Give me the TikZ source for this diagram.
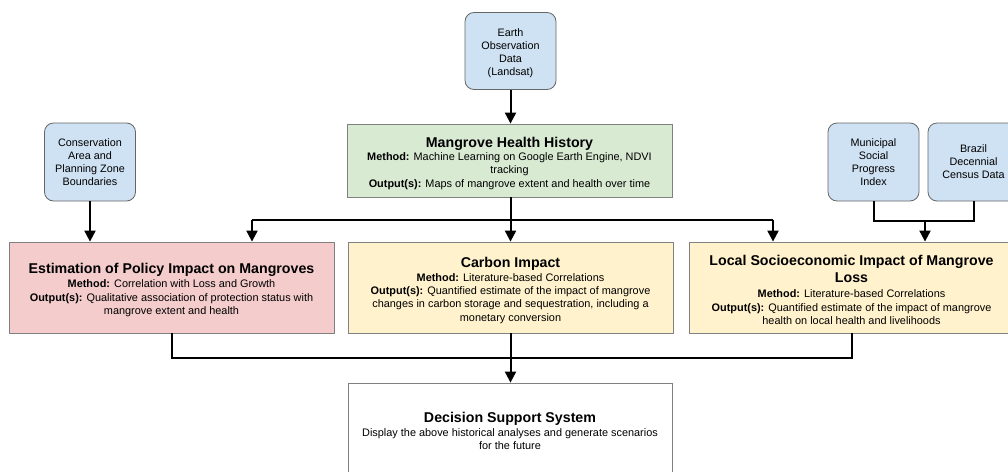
\documentclass[tikz,border=0pt]{standalone}
\usepackage{fontspec}
\setmainfont{Liberation Sans}
\usetikzlibrary{arrows.meta}
\definecolor{bluefill}{HTML}{CFE2F3}
\definecolor{greenfill}{HTML}{D9EAD3}
\definecolor{redfill}{HTML}{F4CCCC}
\definecolor{yellowfill}{HTML}{FFF2CC}
\definecolor{bordergray}{HTML}{666666}
\definecolor{boxgray}{HTML}{808080}
\newcommand{\ttl}[1]{{\fontsize{14.2}{17}\selectfont\bfseries\rule{0pt}{15.5pt}#1}}
\newcommand{\ttlb}[1]{{\fontsize{14.2}{17}\selectfont\bfseries #1}}
\tikzset{
  srcbox/.style={draw=bordergray, line width=0.8pt, fill=bluefill, rounded corners=9pt,
    minimum width=91pt, minimum height=78pt, align=center, inner sep=2pt,
    font=\fontsize{10.8}{13}\selectfont},
  mainbox/.style={draw=boxgray, line width=0.8pt, minimum width=325pt, align=center, inner sep=2pt,
    font=\fontsize{10.9}{13.3}\selectfont},
  link/.style={line width=2pt},
  arr/.style={line width=2pt, -{Triangle[width=11pt,length=11pt]}},
}
\begin{document}
\begin{tikzpicture}[x=1pt,y=-1pt]
\useasboundingbox (0,0) rectangle (1008,471);
\clip (0,0) rectangle (1008,471);
\fill[white] (0,0) rectangle (1008,471);

\node[srcbox, minimum height=77pt] (earth) at (510.5,51) {\rule{0pt}{12pt}Earth\\Observation\\Data\\(Landsat)};
\node[srcbox] (cons) at (90,162) {Conservation\\Area and\\Planning Zone\\Boundaries};
\node[srcbox] (muni) at (873.5,162) {Municipal\\Social\\Progress\\Index};
\node[srcbox] (brazil) at (973.5,162) {Brazil\\Decennial\\Census Data};

\node[mainbox, fill=greenfill, minimum height=73pt] (mhh) at (509.5,160.5)
  {\ttl{Mangrove Health History}\\ \textbf{Method:} Machine Learning on Google Earth Engine, NDVI\\tracking\\\textbf{Output(s):} Maps of mangrove extent and health over time};
\node[mainbox, fill=redfill, minimum height=91pt] (policy) at (171.5,287.5)
  {\ttl{Estimation of Policy Impact on Mangroves}\\[1pt] \textbf{Method:} Correlation with Loss and Growth\\\textbf{Output(s):} Qualitative association of protection status with\\mangrove extent and health};
\node[mainbox, fill=yellowfill, minimum height=91pt] (carbon) at (510.5,287.5)
  {\ttl{Carbon Impact}\\[1pt] \textbf{Method:} Literature-based Correlations\\\textbf{Output(s):} Quantified estimate of the impact of mangrove\\changes in carbon storage and sequestration, including a\\monetary conversion};
\node[mainbox, fill=yellowfill, minimum height=91pt] (socio) at (851.5,287.5)
  {\ttlb{\rule{0pt}{15pt}Local Socioeconomic Impact of Mangrove}\\[3.5pt]\ttlb{Loss}\\[2.5pt] \textbf{Method:} Literature-based Correlations\\\textbf{Output(s):} Quantified estimate of the impact of mangrove\\health on local health and livelihoods};
\node[mainbox, fill=white, minimum width=324pt, minimum height=91pt] (dss) at (510,428.5)
  {\ttl{Decision Support System}\\Display the above historical analyses and generate scenarios\\for the future};

% earth -> mhh
\draw[arr] (earth.south) -- (earth.south |- mhh.north);
% mhh fan-out
\coordinate (hub) at (510.5,220);
\coordinate (hl) at (252,220);
\coordinate (hr) at (773,220);
\draw[link] (mhh.south -| hub) -- (hub);
\draw[link] (hl) -- (hr);
\draw[arr] (hub) -- (hub |- carbon.north);
\draw[arr] (hl) -- (hl |- policy.north);
\draw[arr] (hr) -- (hr |- socio.north);
% cons -> policy
\draw[arr] (cons.south) -- (cons.south |- policy.north);
% muni + brazil -> socio
\coordinate (mj) at (925,221);
\draw[link] (muni.south) |- (mj);
\draw[link] (brazil.south) |- (mj);
\draw[arr] (mj) -- (mj |- socio.north);
% bottom merge
\coordinate (bl) at (172,358);
\coordinate (br) at (852,358);
\coordinate (bm) at (510.5,358);
\draw[link] (policy.south -| bl) -- (bl) -- (br) -- (socio.south -| br);
\draw[link] (carbon.south -| bm) -- (bm);
\draw[arr] (bm) -- (bm |- dss.north);
\end{tikzpicture}
\end{document}
